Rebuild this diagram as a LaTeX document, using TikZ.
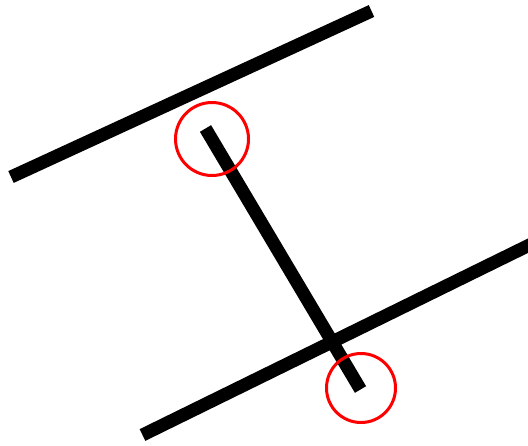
\documentclass[tikz,border=0pt]{standalone}
\begin{document}
\begin{tikzpicture}[x=1pt,y=-1pt,
  bar/.style={line width=13pt,line cap=butt,black},
  ring/.style={draw=red,line width=3pt,circle,inner sep=0pt,minimum size=70pt}]
\useasboundingbox (0,0) rectangle (528,445);
\clip (0,0) rectangle (528,445);
\coordinate (t1) at (11,177);
\coordinate (t2) at (371.5,11);
\coordinate (b1) at (142.5,435);
\coordinate (b2) at (560,230);
\coordinate (m1) at (205.5,128.5);
\coordinate (m2) at (360.5,389.5);
\draw[bar] (t1) -- (t2);
\draw[bar] (b1) -- (b2);
\draw[bar] (m1) -- (m2);
\node[ring,minimum size=73pt] (c1) at (212,139) {};
\node[ring,minimum size=69pt] (c2) at (361,388) {};
\end{tikzpicture}
\end{document}
